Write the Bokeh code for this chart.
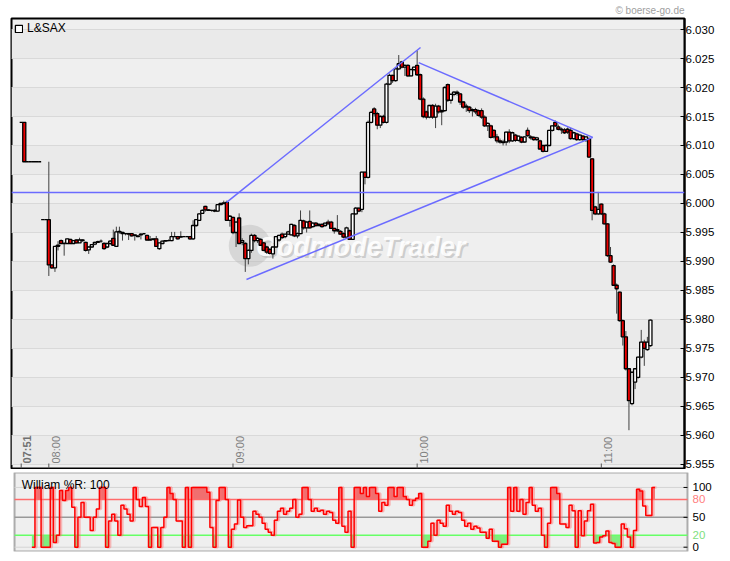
import math
import numpy as np
from bokeh.plotting import figure
from bokeh.models import (ColumnDataSource, FixedTicker, NumeralTickFormatter, Legend,
                          LegendItem, Title, Span, BoxAnnotation)
from bokeh.layouts import column
from bokeh.embed import file_html
from bokeh.resources import INLINE
from bokeh.core.properties import value

FONT = "Liberation Sans"

symbol = "L&SAX"
copyright_text = "\u00a9 boerse-go.de"
watermark_text = "GodmodeTrader"

# one candle per minute, minute 0 = 07:51
opens = [
    6.0140, 6.0140, 6.0072, 6.0072, 6.0072, 6.0072, 6.0072, 5.9972, 5.9972, 5.9972,
    5.9894, 5.9889, 5.9926, 5.9936, 5.9931, 5.9931, 5.9938, 5.9931, 5.9937, 5.9932,
    5.9937, 5.9933, 5.9920, 5.9925, 5.9930, 5.9933, 5.9935, 5.9931, 5.9925, 5.9931,
    5.9940, 5.9926, 5.9951, 5.9950, 5.9948, 5.9948, 5.9948, 5.9945, 5.9944, 5.9946,
    5.9948, 5.9945, 5.9937, 5.9938, 5.9939, 5.9922, 5.9931, 5.9935, 5.9936, 5.9936,
    5.9943, 5.9943, 5.9942, 5.9943, 5.9943, 5.9943, 5.9939, 5.9962, 5.9971, 5.9983,
    5.9995, 5.9989, 5.9988, 5.9988, 5.9987, 5.9998, 6.0000, 6.0002, 5.9971, 5.9976,
    5.9950, 5.9975, 5.9933, 5.9931, 5.9905, 5.9919, 5.9945, 5.9936, 5.9938, 5.9932,
    5.9925, 5.9921, 5.9913, 5.9925, 5.9937, 5.9947, 5.9943, 5.9947, 5.9946, 5.9962,
    5.9944, 5.9948, 5.9970, 5.9958, 5.9969, 5.9960, 5.9966, 5.9962, 5.9964, 5.9962,
    5.9968, 5.9968, 5.9957, 5.9953, 5.9952, 5.9948, 5.9942, 5.9953, 5.9938, 5.9982,
    5.9992, 5.9990, 6.0054, 6.0045, 6.0140, 6.0163, 6.0155, 6.0135, 6.0150, 6.0140,
    6.0206, 6.0221, 6.0212, 6.0232, 6.0244, 6.0235, 6.0238, 6.0220, 6.0231, 6.0238,
    6.0222, 6.0180, 6.0158, 6.0149, 6.0169, 6.0149, 6.0168, 6.0158, 6.0160, 6.0205,
    6.0178, 6.0188, 6.0192, 6.0189, 6.0175, 6.0166, 6.0166, 6.0160, 6.0162, 6.0160,
    6.0160, 6.0149, 6.0134, 6.0134, 6.0126, 6.0115, 6.0108, 6.0106, 6.0106, 6.0123,
    6.0108, 6.0118, 6.0109, 6.0114, 6.0106, 6.0126, 6.0115, 6.0114, 6.0110, 6.0108,
    6.0100, 6.0090, 6.0100, 6.0126, 6.0140, 6.0132, 6.0128, 6.0127, 6.0128, 6.0126,
    6.0112, 6.0120, 6.0110, 6.0116, 6.0110, 6.0112, 6.0077, 5.9994, 5.9982, 5.9999,
    5.9982, 5.9965, 5.9910, 5.9893, 5.9859, 5.9847, 5.9798, 5.9770, 5.9715, 5.9655,
    5.9692, 5.9700, 5.9735, 5.9761, 5.9748, 5.9755,
]
highs = [
    6.0140, 6.0140, 6.0072, 6.0072, 6.0072, 6.0072, 6.0072, 5.9972, 5.9972, 6.0072,
    5.9894, 5.9926, 5.9935, 5.9938, 5.9933, 5.9940, 5.9939, 5.9937, 5.9938, 5.9941,
    5.9938, 5.9934, 5.9926, 5.9930, 5.9934, 5.9936, 5.9938, 5.9933, 5.9932, 5.9937,
    5.9955, 5.9960, 5.9960, 5.9951, 5.9949, 5.9949, 5.9949, 5.9947, 5.9945, 5.9949,
    5.9949, 5.9946, 5.9944, 5.9940, 5.9944, 5.9932, 5.9936, 5.9937, 5.9938, 5.9951,
    5.9951, 5.9944, 5.9952, 5.9944, 5.9944, 5.9944, 5.9971, 5.9973, 5.9983, 5.9990,
    5.9996, 5.9990, 5.9989, 5.9990, 5.9999, 6.0001, 6.0005, 6.0005, 5.9980, 5.9977,
    5.9970, 5.9983, 5.9940, 5.9933, 5.9921, 5.9948, 5.9947, 5.9942, 5.9940, 5.9934,
    5.9927, 5.9923, 5.9926, 5.9944, 5.9946, 5.9950, 5.9948, 5.9953, 5.9965, 5.9964,
    5.9950, 5.9988, 5.9972, 5.9970, 5.9988, 5.9968, 5.9968, 5.9966, 5.9966, 5.9967,
    5.9972, 5.9970, 5.9958, 5.9980, 5.9954, 5.9950, 5.9960, 5.9955, 5.9983, 5.9994,
    5.9993, 6.0055, 6.0055, 6.0143, 6.0160, 6.0166, 6.0158, 6.0152, 6.0153, 6.0208,
    6.0224, 6.0222, 6.0234, 6.0256, 6.0246, 6.0240, 6.0240, 6.0233, 6.0236, 6.0264,
    6.0224, 6.0183, 6.0160, 6.0170, 6.0171, 6.0172, 6.0170, 6.0162, 6.0202, 6.0207,
    6.0190, 6.0194, 6.0195, 6.0190, 6.0176, 6.0172, 6.0168, 6.0164, 6.0165, 6.0162,
    6.0164, 6.0152, 6.0140, 6.0136, 6.0128, 6.0120, 6.0112, 6.0110, 6.0124, 6.0128,
    6.0124, 6.0120, 6.0117, 6.0116, 6.0116, 6.0131, 6.0118, 6.0116, 6.0115, 6.0110,
    6.0101, 6.0102, 6.0127, 6.0135, 6.0143, 6.0136, 6.0131, 6.0130, 6.0131, 6.0130,
    6.0124, 6.0122, 6.0120, 6.0118, 6.0116, 6.0114, 6.0078, 5.9996, 6.0020, 6.0000,
    5.9984, 5.9966, 5.9925, 5.9895, 5.9862, 5.9848, 5.9800, 5.9780, 5.9716, 5.9710,
    5.9716, 5.9736, 5.9782, 5.9765, 5.9770, 5.9800,
]
lows = [
    6.0140, 6.0072, 6.0072, 6.0072, 6.0072, 6.0072, 6.0072, 5.9972, 5.9972, 5.9875,
    5.9887, 5.9882, 5.9919, 5.9930, 5.9910, 5.9931, 5.9930, 5.9930, 5.9931, 5.9932,
    5.9934, 5.9917, 5.9913, 5.9924, 5.9928, 5.9932, 5.9932, 5.9920, 5.9923, 5.9929,
    5.9927, 5.9925, 5.9948, 5.9936, 5.9945, 5.9937, 5.9943, 5.9936, 5.9942, 5.9938,
    5.9946, 5.9936, 5.9936, 5.9936, 5.9925, 5.9920, 5.9930, 5.9934, 5.9935, 5.9935,
    5.9942, 5.9938, 5.9941, 5.9942, 5.9942, 5.9937, 5.9937, 5.9960, 5.9970, 5.9982,
    5.9986, 5.9987, 5.9986, 5.9985, 5.9986, 5.9997, 5.9999, 5.9970, 5.9960, 5.9947,
    5.9925, 5.9930, 5.9928, 5.9882, 5.9895, 5.9915, 5.9933, 5.9932, 5.9927, 5.9918,
    5.9913, 5.9912, 5.9905, 5.9924, 5.9934, 5.9939, 5.9940, 5.9946, 5.9945, 5.9942,
    5.9940, 5.9947, 5.9955, 5.9950, 5.9957, 5.9958, 5.9960, 5.9961, 5.9958, 5.9960,
    5.9964, 5.9956, 5.9948, 5.9951, 5.9946, 5.9940, 5.9941, 5.9937, 5.9937, 5.9980,
    5.9985, 5.9985, 6.0033, 6.0043, 6.0138, 6.0150, 6.0128, 6.0130, 6.0138, 6.0138,
    6.0204, 6.0208, 6.0210, 6.0230, 6.0233, 6.0220, 6.0218, 6.0219, 6.0228, 6.0220,
    6.0178, 6.0147, 6.0145, 6.0147, 6.0146, 6.0130, 6.0155, 6.0135, 6.0158, 6.0175,
    6.0172, 6.0185, 6.0186, 6.0170, 6.0163, 6.0158, 6.0156, 6.0150, 6.0154, 6.0150,
    6.0146, 6.0132, 6.0125, 6.0112, 6.0112, 6.0104, 6.0103, 6.0100, 6.0100, 6.0104,
    6.0106, 6.0106, 6.0107, 6.0104, 6.0105, 6.0115, 6.0110, 6.0108, 6.0108, 6.0093,
    6.0088, 6.0089, 6.0099, 6.0124, 6.0132, 6.0126, 6.0120, 6.0120, 6.0120, 6.0110,
    6.0110, 6.0108, 6.0108, 6.0108, 6.0106, 6.0079, 5.9971, 5.9980, 5.9980, 5.9980,
    5.9964, 5.9908, 5.9898, 5.9858, 5.9810, 5.9796, 5.9755, 5.9712, 5.9609, 5.9652,
    5.9680, 5.9698, 5.9733, 5.9720, 5.9746, 5.9753,
]
closes = [
    6.0140, 6.0072, 6.0072, 6.0072, 6.0072, 6.0072, 6.0072, 5.9972, 5.9972, 5.9894,
    5.9889, 5.9926, 5.9928, 5.9931, 5.9931, 5.9939, 5.9931, 5.9936, 5.9932, 5.9937,
    5.9936, 5.9919, 5.9925, 5.9929, 5.9933, 5.9934, 5.9935, 5.9922, 5.9931, 5.9935,
    5.9928, 5.9951, 5.9952, 5.9948, 5.9948, 5.9947, 5.9944, 5.9946, 5.9943, 5.9947,
    5.9948, 5.9937, 5.9938, 5.9939, 5.9926, 5.9932, 5.9935, 5.9936, 5.9936, 5.9943,
    5.9943, 5.9939, 5.9943, 5.9943, 5.9943, 5.9939, 5.9962, 5.9972, 5.9982, 5.9988,
    5.9989, 5.9988, 5.9988, 5.9987, 5.9998, 6.0000, 6.0001, 5.9971, 5.9978, 5.9950,
    5.9968, 5.9931, 5.9936, 5.9905, 5.9919, 5.9945, 5.9936, 5.9940, 5.9928, 5.9919,
    5.9916, 5.9914, 5.9925, 5.9943, 5.9945, 5.9941, 5.9947, 5.9951, 5.9964, 5.9944,
    5.9948, 5.9971, 5.9958, 5.9968, 5.9958, 5.9966, 5.9962, 5.9964, 5.9960, 5.9966,
    5.9965, 5.9957, 5.9953, 5.9955, 5.9947, 5.9942, 5.9958, 5.9938, 5.9982, 5.9992,
    5.9987, 6.0054, 6.0045, 6.0140, 6.0157, 6.0155, 6.0135, 6.0150, 6.0140, 6.0206,
    6.0221, 6.0212, 6.0232, 6.0241, 6.0235, 6.0238, 6.0220, 6.0231, 6.0235, 6.0222,
    6.0180, 6.0150, 6.0149, 6.0169, 6.0149, 6.0168, 6.0158, 6.0160, 6.0200, 6.0178,
    6.0188, 6.0192, 6.0190, 6.0175, 6.0166, 6.0168, 6.0160, 6.0162, 6.0158, 6.0152,
    6.0149, 6.0134, 6.0138, 6.0114, 6.0115, 6.0108, 6.0106, 6.0105, 6.0123, 6.0108,
    6.0122, 6.0109, 6.0116, 6.0106, 6.0115, 6.0117, 6.0113, 6.0110, 6.0113, 6.0094,
    6.0090, 6.0100, 6.0126, 6.0134, 6.0134, 6.0128, 6.0127, 6.0122, 6.0123, 6.0112,
    6.0122, 6.0110, 6.0118, 6.0110, 6.0115, 6.0080, 5.9988, 5.9982, 5.9990, 5.9982,
    5.9965, 5.9910, 5.9899, 5.9859, 5.9853, 5.9798, 5.9770, 5.9715, 5.9660, 5.9709,
    5.9715, 5.9735, 5.9761, 5.9750, 5.9761, 5.9799,
]

# Williams %R (period 100), one value per minute, None before it starts
wr_period = 100
wr_values = [
    None, None, None, 0, 100, 100, 0, 0, 0, 100,
    8, 20, 95, 78, 95, 100, 67, 0, 50, 75,
    50, 50, 28, 50, 64, 100, 100, 0, 44, 55,
    44, 20, 70, 64, 55, 44, 100, 80, 68, 83,
    68, 0, 33, 33, 0, 33, 50, 100, 90, 80,
    44, 44, 0, 100, 0, 100, 100, 100, 100, 100,
    92, 33, 0, 78, 100, 100, 80, 0, 30, 39,
    79, 50, 33, 36, 36, 60, 55, 50, 40, 30,
    25, 20, 45, 60, 65, 55, 60, 65, 80, 50,
    55, 100, 100, 80, 60, 65, 60, 62, 55, 60,
    58, 45, 40, 100, 35, 25, 60, 0, 100, 100,
    90, 100, 85, 100, 100, 90, 60, 75, 70, 100,
    100, 85, 100, 100, 85, 80, 70, 78, 82, 90,
    0, 0, 10, 40, 20, 45, 40, 35, 70, 60,
    55, 60, 58, 45, 35, 40, 30, 35, 32, 25,
    25, 15, 30, 10, 10, 0, 5, 5, 100, 60,
    100, 60, 80, 55, 75, 100, 70, 60, 65, 20,
    0, 40, 100, 100, 90, 39, 39, 33, 70, 61,
    0, 61, 19, 44, 61, 72, 7, 8, 17, 19,
    27, 8, 6, 0, 0, 39, 31, 17, 0, 28,
    97, 94, 69, 53, 53, 100,
]
wr_upper = 80
wr_mid = 50
wr_lower = 20
wr_ticks = [0, 50, 100]
wr_label_values = [100, 80, 50, 20, 0]
wr_label_colors = ["black", "#FF8080", "black", "#7EE07E", "black"]

time_ticks = [0, 9, 69, 129, 189]
time_labels = ["07:51", "08:00", "09:00", "10:00", "11:00"]
price_ticks = [5.955, 5.960, 5.965, 5.970, 5.975, 5.980, 5.985, 5.990, 5.995,
               6.000, 6.005, 6.010, 6.015, 6.020, 6.025, 6.030]

# drawn lines (minute, price)
level_price = 6.0019
trend_top_x = [66.9, 130.1]
trend_top_y = [6.0002, 6.0269]
trend_fall_x = [129.5, 186.2]
trend_fall_y = [6.0243, 6.0114]
trend_low_x = [73.4, 186.2]
trend_low_y = [5.9869, 6.0114]

X0, X1 = -3.16, 216.1
Y0, Y1 = 5.9543, 6.0319
FW = 673
PX = FW / (X1 - X0)   # pixels per minute

n = len(opens)
minutes = list(range(n))

up_idx = [i for i in range(n) if closes[i] >= opens[i]]
dn_idx = [i for i in range(n) if closes[i] < opens[i]]


def body(idx):
    return ColumnDataSource(dict(
        x=[minutes[i] for i in idx],
        top=[max(opens[i], closes[i]) for i in idx],
        bottom=[min(opens[i], closes[i]) for i in idx],
    ))


p = figure(frame_width=FW, frame_height=450, x_range=(X0, X1), y_range=(Y0, Y1),
           output_backend="svg", toolbar_location=None, x_axis_location=None,
           y_axis_location="right", min_border_left=11, min_border_right=0,
           min_border_bottom=1, min_border_top=0,
           background_fill_color="#EFEFEF", border_fill_color="white",
           outline_line_color="black", outline_line_width=2)
p.title = Title(text=copyright_text, align="right", text_font=FONT, text_font_size="10px",
                text_color="#A0A0A0", text_font_style="normal", standoff=5, offset=0)
p.xgrid.visible = False
p.ygrid.ticker = FixedTicker(ticks=price_ticks)
p.ygrid.grid_line_color = "#D9D9D9"
p.ygrid.band_fill_color = "#EAEAEA"
p.ygrid.band_fill_alpha = 1.0

ya = p.yaxis[0]
ya.ticker = FixedTicker(ticks=price_ticks)
ya.formatter = NumeralTickFormatter(format="0.000")
ya.major_tick_in = 4
ya.major_tick_out = 0
ya.major_tick_line_color = "black"
ya.minor_tick_line_color = None
ya.axis_line_color = "black"
ya.axis_line_width = 2
ya.major_label_standoff = 1
ya.major_label_text_font = FONT
ya.major_label_text_font_size = "11.5px"
ya.major_label_text_color = "black"

# watermark
wm_x = X0 + (X1 - X0) * 0.354
wm_y = Y0 + (Y1 - Y0) * 0.495
p.scatter([wm_x], [wm_y], size=42, marker="circle", fill_color="#B5B5B5",
          fill_alpha=0.4, line_color=None)
p.text([wm_x + 2.0], [wm_y - 0.0003], text=[watermark_text], text_font=value(FONT),
       text_font_size="27px", text_font_style="bold italic", text_color="#B0B0B0",
       text_alpha=0.55, text_baseline="middle", text_align="left", x_offset=2, y_offset=2)
p.text([wm_x + 2.0], [wm_y - 0.0003], text=[watermark_text], text_font=value(FONT),
       text_font_size="27px", text_font_style="bold italic", text_color="white",
       text_alpha=0.9, text_baseline="middle", text_align="left")

# candles
wick_src = ColumnDataSource(dict(x=minutes, h=highs, l=lows))
p.segment(x0="x", y0="h", x1="x", y1="l", source=wick_src, line_color="#404040", line_width=1)
r_up = p.vbar(x="x", top="top", bottom="bottom", width=1.0, source=body(up_idx),
              fill_color="white", line_color="black", line_width=1.3)
p.vbar(x="x", top="top", bottom="bottom", width=1.0, source=body(dn_idx),
       fill_color="#EE0000", line_color="black", line_width=1.3)

# lines
blue = "#6B6BFF"
p.add_layout(Span(location=level_price, dimension="width", line_color=blue, line_width=1.5))
p.line(trend_top_x, trend_top_y, line_color=blue, line_width=1.5)
p.line(trend_fall_x, trend_fall_y, line_color=blue, line_width=1.5)
p.line(trend_low_x, trend_low_y, line_color=blue, line_width=1.5)

# time ticks and labels inside the frame
tick_len = (Y1 - Y0) / 450 * 5
p.segment(x0=time_ticks, y0=[Y0] * len(time_ticks), x1=time_ticks,
          y1=[Y0 + tick_len] * len(time_ticks), line_color="#555555", line_width=1)
p.text(x=time_ticks[:1], y=[Y0], text=time_labels[:1], angle=math.pi / 2, x_offset=6,
       y_offset=-5, text_align="left", text_baseline="middle", text_font=value(FONT),
       text_font_size="11px", text_font_style="bold", text_color="#707070")
p.text(x=time_ticks[1:], y=[Y0] * (len(time_ticks) - 1), text=time_labels[1:],
       angle=math.pi / 2, x_offset=7, y_offset=-5, text_align="left", text_baseline="middle",
       text_font=value(FONT), text_font_size="11px", text_color="#808080")

leg = Legend(items=[LegendItem(label=symbol, renderers=[r_up])], location="top_left",
             margin=0, padding=3, glyph_width=9, glyph_height=9, label_height=9,
             label_standoff=4, spacing=0, border_line_alpha=0, background_fill_alpha=0,
             label_text_font=FONT, label_text_font_size="12px", label_text_color="black")
p.add_layout(leg)

# ---------------- Williams %R panel ----------------
LPAD = 3      # px left of panel
RPAD = 36     # px for the value labels right of panel
W0, W1 = -7.2, 125
p2 = figure(frame_width=FW + LPAD + RPAD, frame_height=79,
            x_range=(X0 - LPAD / PX, X1 + RPAD / PX), y_range=(W0, W1),
            output_backend="svg", toolbar_location=None, x_axis_location=None,
            y_axis_location=None, min_border_left=11 - LPAD, min_border_right=0,
            min_border_top=3, min_border_bottom=2,
            background_fill_color="white", border_fill_color="white",
            outline_line_color=None)
p2.grid.visible = False
p2.add_layout(BoxAnnotation(left=X0, right=X1, bottom=W0, top=W1, fill_color="#EFEFEF",
                            fill_alpha=1.0, line_color="black", line_width=2,
                            level="underlay"))
p2.segment(x0=[X0, X0], y0=[0, 100], x1=[X1, X1], y1=[0, 100],
           line_color="#D4D4D4", line_width=1)

wr = np.array([np.nan if v is None else v for v in wr_values], dtype=float)
sx, sy = [], []
for m, v in zip(minutes, wr):
    if np.isnan(v):
        continue
    sx += [m - 0.5, m + 0.5]
    sy += [v, v]
sx = np.array(sx)
sy = np.array(sy, dtype=float)
p2.varea(x=sx, y1=np.full_like(sy, wr_upper), y2=np.maximum(sy, wr_upper),
         fill_color="#F06060", fill_alpha=0.9)
p2.varea(x=sx, y1=np.minimum(sy, wr_lower), y2=np.full_like(sy, wr_lower),
         fill_color="#70F070", fill_alpha=0.9)

p2.segment(x0=[X0] * 3, x1=[X1] * 3, y0=[wr_upper, wr_mid, wr_lower],
           y1=[wr_upper, wr_mid, wr_lower], line_color=["#FF6B6B", "#999999", "#66FF66"],
           line_width=1.5)

p2.line(sx + 0.5, sy, line_color="#FF7070", line_alpha=0.45, line_width=2.5)
p2.line(sx, sy, line_color="#FF0000", line_width=1.5)

# right scale of the panel
p2.segment(x0=[X1 - 4 / PX] * len(wr_ticks), x1=[X1] * len(wr_ticks), y0=wr_ticks,
           y1=wr_ticks, line_color="black", line_width=1)
p2.text(x=[X1] * len(wr_label_values), y=wr_label_values,
        text=[str(v) for v in wr_label_values], text_color=wr_label_colors,
        x_offset=5, text_align="left", text_baseline="middle",
        text_font=value(FONT), text_font_size="11.5px")

dummy = p2.quad(left=[], right=[], top=[], bottom=[], fill_color="#EE0000", line_color="black")
leg2 = Legend(items=[LegendItem(label="William %%R: %d" % wr_period, renderers=[dummy])],
              location="top_left", margin=3, padding=3, glyph_width=9, glyph_height=9,
              label_height=9, label_standoff=4, spacing=0, border_line_alpha=0,
              background_fill_alpha=0, label_text_font=FONT, label_text_font_size="12px",
              label_text_color="black")
p2.add_layout(leg2)

layout = column(p, p2, spacing=0)
open("out.html", "w").write(file_html(layout, INLINE))
